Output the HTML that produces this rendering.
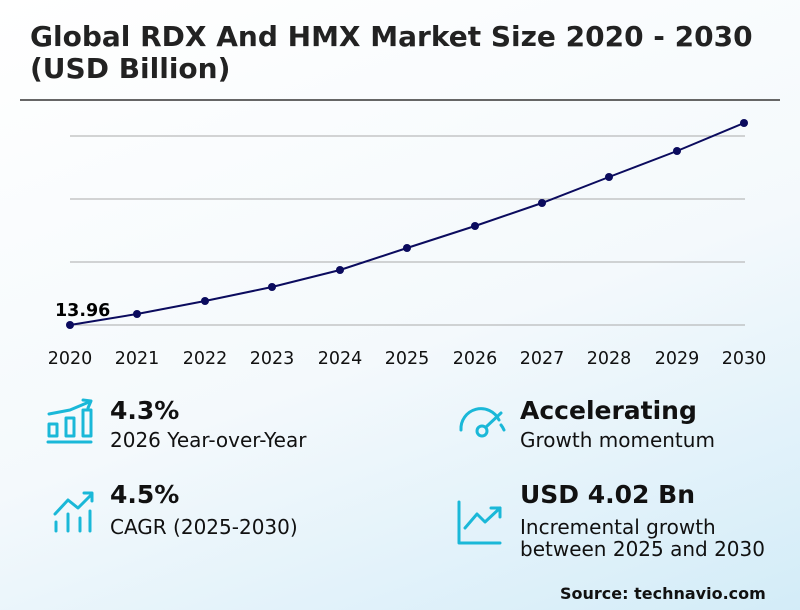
<!DOCTYPE html><html><head><style>
body{margin:0;width:800px;height:610px;overflow:hidden;font-family:"DejaVu Sans",sans-serif;background:linear-gradient(160deg,#ffffff 0%,#f4f9fc 55%,#d3ecf8 100%);position:relative;color:#111}
.t{position:absolute;left:30px;top:21px;font-size:28px;font-weight:bold;line-height:32px;color:#222}
.a{position:absolute;font-size:25px;font-weight:bold}
.b{position:absolute;font-size:20px;line-height:22px}
</style></head><body>
<div class="t">Global RDX And HMX Market Size 2020 - 2030<br>(USD Billion)</div>
<div style="position:absolute;left:20px;top:99px;width:760px;height:2px;background:#666"></div>
<svg style="position:absolute;left:0;top:0" width="800" height="610">
<g stroke="#aaa" stroke-width="1"><line x1="70" y1="136" x2="745" y2="136"/><line x1="70" y1="199" x2="745" y2="199"/><line x1="70" y1="262" x2="745" y2="262"/><line x1="70" y1="325" x2="745" y2="325"/></g>
<polyline fill="none" stroke="#0b0b5e" stroke-width="2" points="70,325 137,314 205,301 272,287 340,270 407,248 475,226 542,203 609,177 677,151 744,123"/>
<g fill="#0b0b5e"><circle cx="70" cy="325" r="4"/><circle cx="137" cy="314" r="4"/><circle cx="205" cy="301" r="4"/><circle cx="272" cy="287" r="4"/><circle cx="340" cy="270" r="4"/><circle cx="407" cy="248" r="4"/><circle cx="475" cy="226" r="4"/><circle cx="542" cy="203" r="4"/><circle cx="609" cy="177" r="4"/><circle cx="677" cy="151" r="4"/><circle cx="744" cy="123" r="4"/></g>
<text x="55" y="316" font-size="17.5" font-weight="bold" font-family="DejaVu Sans">13.96</text>
<g font-size="17.5" font-family="DejaVu Sans" text-anchor="middle" fill="#111"><text x="70" y="364">2020</text><text x="137" y="364">2021</text><text x="205" y="364">2022</text><text x="272" y="364">2023</text><text x="340" y="364">2024</text><text x="407" y="364">2025</text><text x="475" y="364">2026</text><text x="542" y="364">2027</text><text x="609" y="364">2028</text><text x="677" y="364">2029</text><text x="744" y="364">2030</text></g>
<g fill="none" stroke="#1ab8d8" stroke-width="3" stroke-linecap="round" stroke-linejoin="round">
<line x1="48" y1="442" x2="91" y2="442"/><rect x="49" y="424" width="8" height="12"/><rect x="66" y="418" width="8" height="18"/><rect x="83" y="410" width="8" height="26"/><polyline points="49,414 70,410 89,402"/><polyline points="83,400 91,401 88,408"/>
<polyline points="55,514 68,500 78,508 92,494"/><polyline points="84,493 92,493 92,501"/><line x1="56" y1="522" x2="56" y2="531"/><line x1="68" y1="514" x2="68" y2="531"/><line x1="80" y1="518" x2="80" y2="531"/><line x1="90" y1="511" x2="90" y2="531"/>
<path d="M461,430 A20,20 0 0 1 499,420"/><path d="M501,425 A20,20 0 0 1 504,430"/><circle cx="482" cy="431" r="5"/><line x1="486" y1="427" x2="501" y2="413"/>
<polyline points="459,502 459,543 500,543"/><polyline points="465,528 477,514 485,522 500,508"/><polyline points="491,508 500,508 500,517"/>
</g>
</svg>
<div class="a" style="left:110px;top:396px">4.3%</div><div class="b" style="left:110px;top:429px">2026 Year-over-Year</div>
<div class="a" style="left:110px;top:480px">4.5%</div><div class="b" style="left:110px;top:516px">CAGR (2025-2030)</div>
<div class="a" style="left:520px;top:396px">Accelerating</div><div class="b" style="left:520px;top:429px">Growth momentum</div>
<div class="a" style="left:520px;top:480px">USD 4.02 Bn</div><div class="b" style="left:520px;top:516px">Incremental growth<br>between 2025 and 2030</div>
<div style="position:absolute;left:560px;top:584px;font-size:16px;font-weight:bold">Source: technavio.com</div>
</body></html>
